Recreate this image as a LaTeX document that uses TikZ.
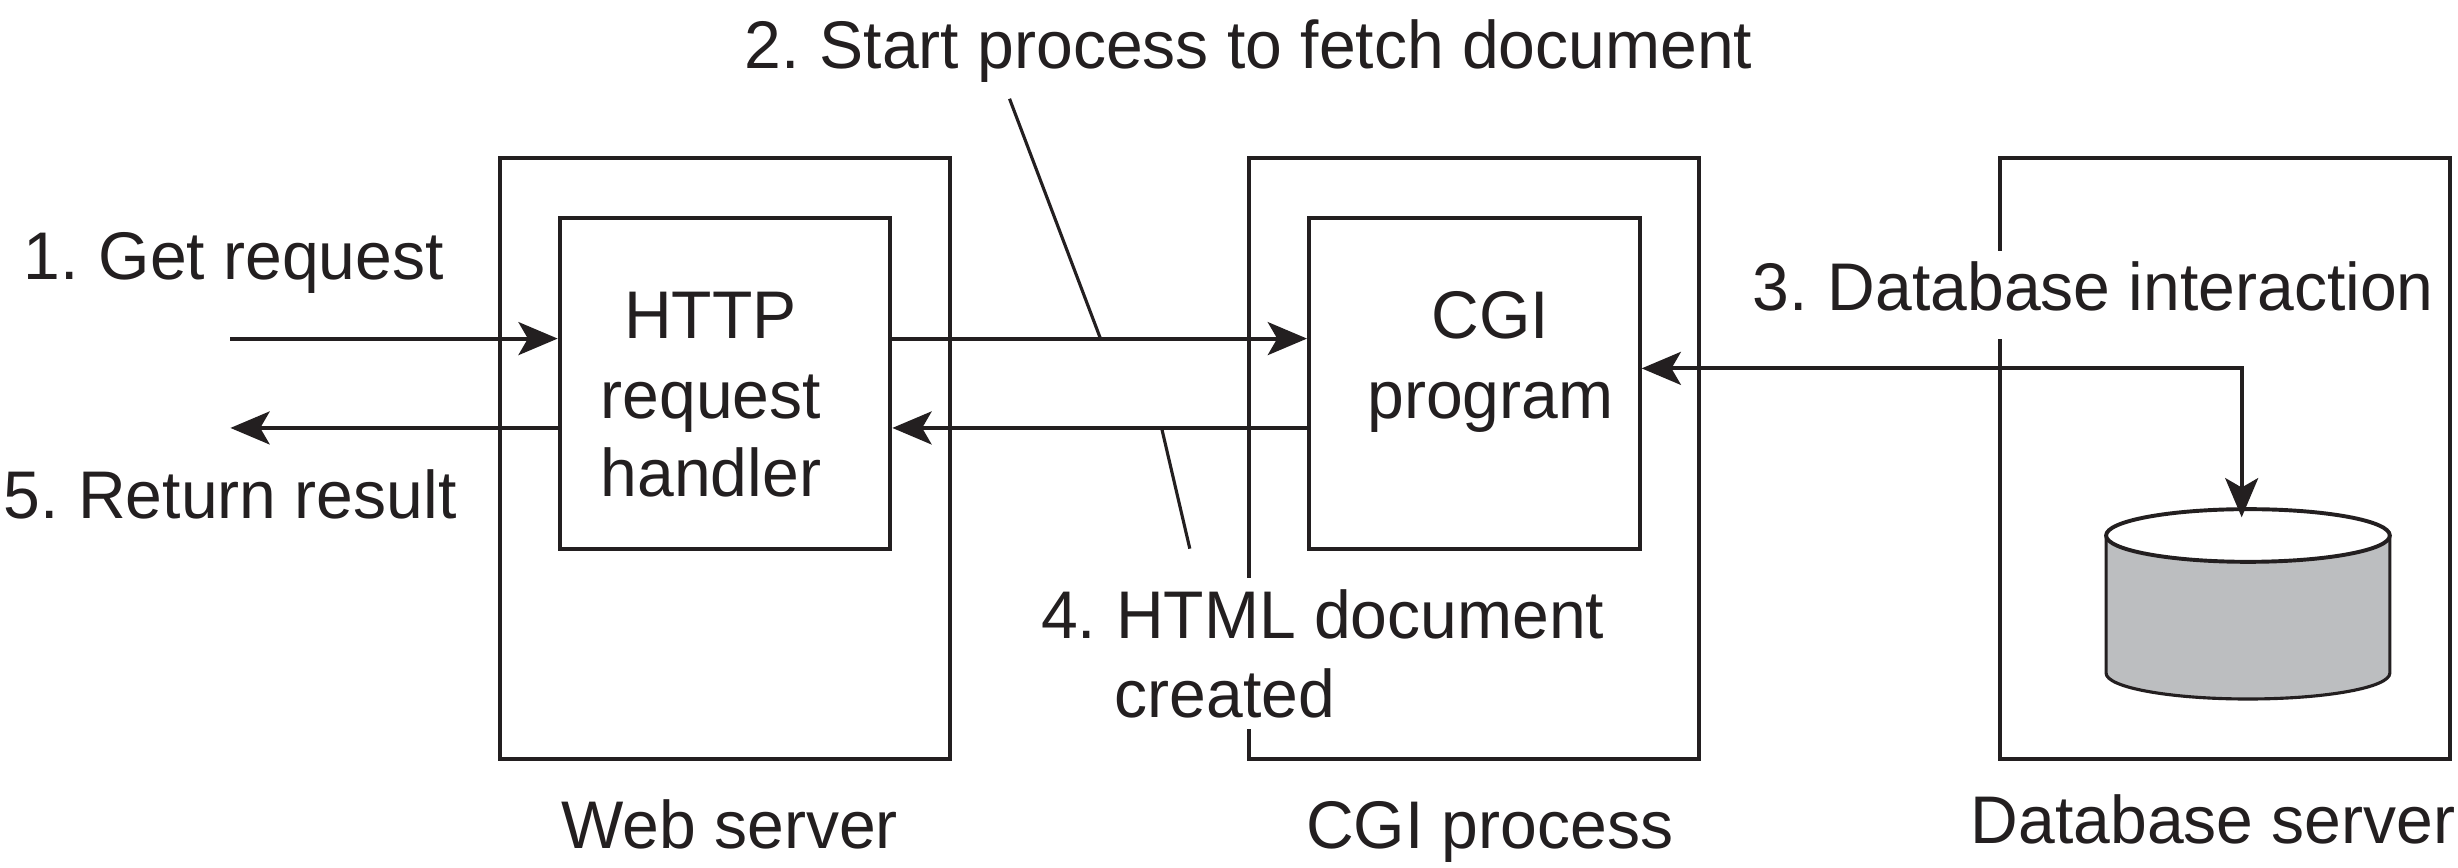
\documentclass[tikz,border=0pt]{standalone}
\usepackage{fontspec}
\setmainfont{Liberation Sans}[FakeStretch=0.98]
\usetikzlibrary{arrows.meta}

\begin{document}
\begin{tikzpicture}[x=1pt, y=-1pt,
        every node/.style={font=\fontsize{43}{50}\selectfont, text=inkColor, inner sep=0pt},
        serverBox/.style={draw=inkColor, line width=2.5pt, minimum width=287pt, minimum height=383pt},
        innerBox/.style={draw=inkColor, line width=2.5pt, minimum width=211pt, minimum height=211pt},
        linkArrow/.style={-{Stealth[length=25pt, width=21pt, inset=6pt]}, draw=inkColor, line width=2.6pt},
        leaderLine/.style={draw=inkColor, line width=2pt},
        stepLabel/.style={anchor=base west},
        cutLabel/.style={anchor=base west, fill=white}]
        % Colours of the lines and of the disk
        \definecolor{inkColor}{RGB}{35,31,32}
        \definecolor{diskColor}{RGB}{188,190,192}
        \def\numGap{\hspace{-3pt}} % tighter space after the step number

        \useasboundingbox (0,0) rectangle (1568,553.1);

        % Server boxes
        \node[serverBox] (webBox) at (462.5,292.5) {};
        \node[serverBox] (cgiBox) at (940.5,292.5) {};
        \node[serverBox] (dbBox) at (1419.5,292.5) {};

        % Inner boxes
        \node[innerBox] (httpBox) at (462.5,244.5) {};
        \node[innerBox] (progBox) at (940.5,244.5) {};

        % Disk in the database server
        \fill[diskColor] (1343.5,341.6) -- (1343.5,429.4) arc[start angle=180, end angle=0, x radius=90.5, y radius=16.5]
            -- (1524.5,341.6) -- cycle;
        \draw[inkColor, line width=2pt] (1343.5,341.6) -- (1343.5,429.4) arc[start angle=180, end angle=0, x radius=90.5, y radius=16.5]
            -- (1524.5,341.6);
        \draw[inkColor, line width=2.5pt, fill=white] (1434,341.6) ellipse[x radius=90.5, y radius=16.8];

        % Text inside the boxes
        \node[stepLabel] (httpText) at (398,216) {HTTP};
        \node[stepLabel] (requestText) at (383,267) {request};
        \node[stepLabel] (handlerText) at (383,317) {handler};
        \node[stepLabel] (cgiText) at (913,216) {CGI};
        \node[stepLabel] (programText) at (872,267) {program};

        % Labels of the steps; the white ones cut the box lines behind them
        \node[stepLabel] (getLabel) at (15,178) {1.\numGap{} Get request};
        \node[stepLabel] (startLabel) at (475,44) {2.\numGap{} Start process to fetch document};
        \node[cutLabel, text height=38pt, text depth=18pt] (dbLabel) at (1118,198) {3.\numGap{} Database interaction};
        \node[cutLabel, text height=38pt, text depth=23pt] (htmlLabel) at (664,407) {4.\numGap{} HTML document};
        \node[cutLabel, text height=28pt, text depth=7pt] (createdLabel) at (711,458) {created};
        \node[stepLabel] (returnLabel) at (2,331) {5.\numGap{} Return result};

        % Names under the boxes
        \node[stepLabel] (webName) at (358,541) {Web server};
        \node[stepLabel] (cgiName) at (833,541) {CGI process};
        \node[stepLabel] (dbName) at (1257,538) {Database server};

        % Free ends of the connectors
        \coordinate (getStart) at (147,216);
        \coordinate (returnEnd) at (147,273);
        \coordinate (dbCorner) at (1430,235);
        \coordinate (diskTop) at (1430,330);
        \coordinate (startFoot) at (644,63);
        \coordinate (startHead) at (702,216);
        \coordinate (htmlHead) at (741,273);
        \coordinate (htmlFoot) at (759,350);

        % Requests and replies
        \draw[linkArrow] (getStart) -- (httpBox.west |- getStart);
        \draw[linkArrow] (httpBox.west |- returnEnd) -- (returnEnd);
        \draw[linkArrow] (httpBox.east |- getStart) -- (progBox.west |- getStart);
        \draw[linkArrow] (progBox.west |- returnEnd) -- (httpBox.east |- returnEnd);
        \draw[linkArrow, {Stealth[length=25pt, width=21pt, inset=6pt]}-{Stealth[length=25pt, width=21pt, inset=6pt]}]
            (progBox.east |- dbCorner) -- (dbCorner) -- (diskTop);

        % Leader lines of the labels
        \draw[leaderLine] (startFoot) -- (startHead);
        \draw[leaderLine] (htmlHead) -- (htmlFoot);
\end{tikzpicture}
\end{document}
